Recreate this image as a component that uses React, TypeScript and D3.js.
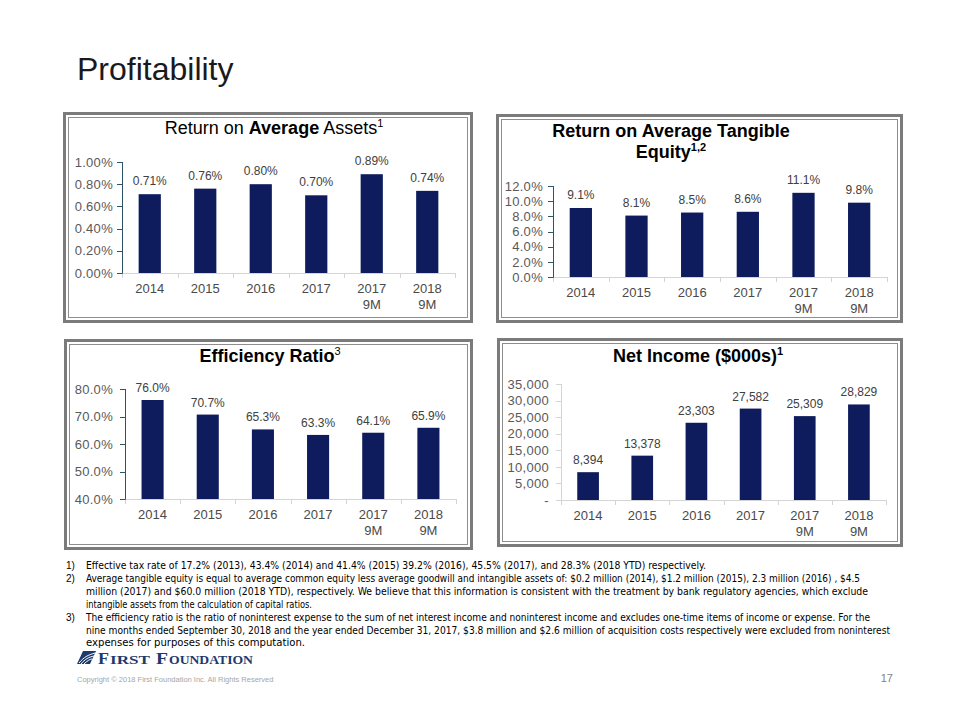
import React from "react";
import * as d3 from "d3";

// ---------- data ----------
const categories = ["2014", "2015", "2016", "2017", "2017 9M", "2018 9M"];

const roaaValues = [0.71, 0.76, 0.8, 0.7, 0.89, 0.74];
const roaaTicks = [0, 0.2, 0.4, 0.6, 0.8, 1.0];

const roateValues = [9.1, 8.1, 8.5, 8.6, 11.1, 9.8];
const roateTicks = [0, 2, 4, 6, 8, 10, 12];

const efficiencyValues = [76.0, 70.7, 65.3, 63.3, 64.1, 65.9];
const efficiencyTicks = [40, 50, 60, 70, 80];

const netIncomeValues = [8394, 13378, 23303, 27582, 25309, 28829];
const netIncomeTicks = [0, 5000, 10000, 15000, 20000, 25000, 30000, 35000];

const footnoteNumbers = ["1)", "2)", "", "", "3)", "", ""];
const footnoteLines = [
  "Effective tax rate of 17.2% (2013), 43.4% (2014) and 41.4% (2015) 39.2% (2016), 45.5% (2017), and 28.3% (2018 YTD) respectively.",
  "Average tangible equity is equal to average common equity less average goodwill and intangible assets of: $0.2 million (2014), $1.2 million (2015), 2.3 million (2016) , $4.5",
  "million  (2017) and $60.0 million  (2018 YTD), respectively. We believe that this information is consistent with the treatment by bank regulatory agencies, which exclude",
  "intangible assets from the calculation of capital ratios.",
  "The efficiency ratio is the ratio of noninterest expense to the sum of net interest income and noninterest income and excludes one-time items of income or expense. For the",
  "nine months ended September 30, 2018 and the year ended December 31, 2017, $3.8 million  and $2.6 million  of acquisition costs respectively were excluded from noninterest",
  "expenses for purposes of this computation.",
];
const footnoteWidths = [620, 774, 782, 226, 784, 804, 219];

// ---------- styles ----------
const BAR = "#0e1b5c";
const FONT = "'Liberation Sans', Arial, sans-serif";
const NARROW = "'Liberation Sans Narrow', 'Arial Narrow', 'DejaVu Sans Condensed', sans-serif";
const LOGO = "#1d3a6d";

type Frame = { x: number; y: number; w: number; h: number };
type Plot = { x0: number; x1: number; yTop: number; yBottom: number };

function Panel(props: {
  frame: Frame;
  plot: Plot;
  domain: [number, number];
  ticks: number[];
  tickFmt: (v: number) => string;
  values: number[];
  valFmt: (v: number) => string;
  yAxisColor: string;
  tickGap: number;
  labelGap: number;
  children?: React.ReactNode;
}) {
  const { frame, plot, domain, ticks, tickFmt, values, valFmt, yAxisColor, tickGap, labelGap } = props;
  const y = d3.scaleLinear().domain(domain).range([plot.yBottom, plot.yTop]);
  const x = d3
    .scaleBand<string>()
    .domain(categories)
    .range([plot.x0, plot.x1])
    .paddingInner(0.6)
    .paddingOuter(0.3);
  const step = x.step();
  const base = y(domain[0]);
  return (
    <g>
      <rect x={frame.x + 1.5} y={frame.y + 1.5} width={frame.w - 3} height={frame.h - 3} fill="#fff" stroke="#7b7b7b" strokeWidth={3} />
      <rect x={frame.x + 5.5} y={frame.y + 5.5} width={frame.w - 11} height={frame.h - 11} fill="none" stroke="#8e8e8e" strokeWidth={1} />
      {props.children}
      <line x1={plot.x0} x2={plot.x1} y1={base + 0.5} y2={base + 0.5} stroke="#d4d4d4" strokeWidth={1} />
      {d3.range(categories.length + 1).map((i) => {
        const xx = Math.round(plot.x0 + i * step) + 0.5;
        return <line key={i} x1={xx} x2={xx} y1={base} y2={base + 5} stroke="#d4d4d4" strokeWidth={1} />;
      })}
      {values.map((v, i) => {
        const c = categories[i];
        return <rect key={c} x={x(c)} y={y(v)} width={x.bandwidth()} height={base - y(v)} fill={BAR} />;
      })}
      {values.map((v, i) => {
        const c = categories[i];
        return (
          <text key={c} x={(x(c) as number) + x.bandwidth() / 2} y={y(v) - labelGap} textAnchor="middle" fontSize={12} fill="#404040" fontFamily={FONT}>
            {valFmt(v)}
          </text>
        );
      })}
      <line x1={plot.x0 + 0.5} x2={plot.x0 + 0.5} y1={plot.yTop} y2={base + 0.5} stroke={yAxisColor} strokeWidth={1} />
      {ticks.map((t) => (
        <g key={t}>
          <line x1={plot.x0 - 5} x2={plot.x0 + 0.5} y1={Math.round(y(t)) + 0.5} y2={Math.round(y(t)) + 0.5} stroke={yAxisColor} strokeWidth={1} />
          <text x={plot.x0 - tickGap} y={y(t)} dy="0.36em" textAnchor="end" fontSize={13} fill="#595959" fontFamily={FONT} letterSpacing={0.3}>
            {tickFmt(t)}
          </text>
        </g>
      ))}
      {categories.map((c) => {
        const parts = c.split(" ");
        const cx = (x(c) as number) + x.bandwidth() / 2;
        return (
          <text key={c} x={cx} y={base + 20} textAnchor="middle" fontSize={13} fill="#4a4a4a" fontFamily={FONT}>
            {parts.map((p, j) => (
              <tspan key={j} x={cx} dy={j === 0 ? 0 : 16}>
                {p}
              </tspan>
            ))}
          </text>
        );
      })}
    </g>
  );
}

function Logo() {
  const serif = "'Liberation Serif', serif";
  return (
    <g>
      <g transform="translate(77,651)">
        <path d="M0,13 L6,0 L19,0 L13,13 Z" fill={LOGO} />
        <path d="M2,12 C7,6 11,4 18,2" stroke="#fff" strokeWidth={1} fill="none" />
        <path d="M4,13 C8,8 12,6 17,5" stroke="#fff" strokeWidth={1} fill="none" />
        <path d="M7,13 C10,10 13,8 15,8" stroke="#fff" strokeWidth={1} fill="none" />
      </g>
      <text x={98} y={664} fill={LOGO} fontFamily={serif} fontWeight="bold" fontSize={17} textLength={11} lengthAdjust="spacingAndGlyphs">F</text>
      <text x={110} y={664} fill={LOGO} fontFamily={serif} fontWeight="bold" fontSize={13.5} textLength={40} lengthAdjust="spacingAndGlyphs">IRST</text>
      <text x={156} y={664} fill={LOGO} fontFamily={serif} fontWeight="bold" fontSize={17} textLength={12} lengthAdjust="spacingAndGlyphs">F</text>
      <text x={169} y={664} fill={LOGO} fontFamily={serif} fontWeight="bold" fontSize={13.5} textLength={84} lengthAdjust="spacingAndGlyphs">OUNDATION</text>
    </g>
  );
}

export default function App() {
  const pctFmt = (digits: number) => (v: number) => d3.format(`.${digits}f`)(v) + "%";
  const niTick = (v: number) => (v === 0 ? "-" : d3.format(",")(v));
  return (
    <svg width={960} height={720} style={{ position: "absolute", left: 0, top: 0, display: "block", background: "#fff" }}>
      <text x={77} y={80} fontSize={32} fontFamily={FONT} fill="#1a1a1a">
        Profitability
      </text>

      <Panel
        frame={{ x: 63, y: 112, w: 410, h: 211 }}
        plot={{ x0: 122, x1: 455, yTop: 162, yBottom: 273 }}
        domain={[0, 1.0]}
        ticks={roaaTicks}
        tickFmt={pctFmt(2)}
        values={roaaValues}
        valFmt={pctFmt(2)}
        yAxisColor="#2f5466"
        tickGap={9}
        labelGap={9}
      >
        <text x={274} y={134} textAnchor="middle" fontSize={18} fontFamily={FONT} fill="#000">
          Return on <tspan fontWeight="bold">Average</tspan> Assets
          <tspan fontSize={11} dy={-7}>1</tspan>
        </text>
      </Panel>

      <Panel
        frame={{ x: 496, y: 114, w: 407, h: 209 }}
        plot={{ x0: 553, x1: 887, yTop: 186, yBottom: 277 }}
        domain={[0, 12]}
        ticks={roateTicks}
        tickFmt={pctFmt(1)}
        values={roateValues}
        valFmt={pctFmt(1)}
        yAxisColor="#2f5466"
        tickGap={10}
        labelGap={9}
      >
        <text x={671} y={137} textAnchor="middle" fontSize={18} fontWeight="bold" fontFamily={FONT} fill="#000">
          Return on Average Tangible
        </text>
        <text x={671} y={158} textAnchor="middle" fontSize={18} fontWeight="bold" fontFamily={FONT} fill="#000">
          Equity<tspan fontSize={11} dy={-7}>1,2</tspan>
        </text>
      </Panel>

      <Panel
        frame={{ x: 64, y: 339, w: 409, h: 211 }}
        plot={{ x0: 125, x1: 456, yTop: 389, yBottom: 499 }}
        domain={[40, 80]}
        ticks={efficiencyTicks}
        tickFmt={pctFmt(1)}
        values={efficiencyValues}
        valFmt={pctFmt(1)}
        yAxisColor="#2f5466"
        tickGap={12}
        labelGap={8}
      >
        <text x={270} y={362} textAnchor="middle" fontSize={18} fontWeight="bold" fontFamily={FONT} fill="#000">
          Efficiency Ratio<tspan fontSize={11} fontWeight="normal" dy={-7}>3</tspan>
        </text>
      </Panel>

      <Panel
        frame={{ x: 497, y: 338, w: 406, h: 209 }}
        plot={{ x0: 561, x1: 886, yTop: 384, yBottom: 500 }}
        domain={[0, 35000]}
        ticks={netIncomeTicks}
        tickFmt={niTick}
        values={netIncomeValues}
        valFmt={d3.format(",")}
        yAxisColor="#d4d4d4"
        tickGap={12}
        labelGap={8}
      >
        <text x={698} y={362} textAnchor="middle" fontSize={18} fontWeight="bold" fontFamily={FONT} fill="#000">
          Net Income ($000s)<tspan fontSize={11} dy={-7}>1</tspan>
        </text>
      </Panel>

      {footnoteLines.map((line, i) => (
        <g key={i}>
          {footnoteNumbers[i] && (
            <text x={66} y={569 + i * 12.9} fontSize={10} fontFamily={FONT} fill="#000">
              {footnoteNumbers[i]}
            </text>
          )}
          <text x={86} y={569 + i * 12.9} fontSize={10.5} fontFamily={NARROW} fill="#000" textLength={footnoteWidths[i]} lengthAdjust="spacingAndGlyphs">
            {line}
          </text>
        </g>
      ))}

      <Logo />
      <text x={77} y={682} fontSize={7.5} fontFamily={FONT} fill="#a6a6a6">
        Copyright © 2018 First Foundation Inc. All Rights Reserved
      </text>
      <text x={893} y={682} textAnchor="end" fontSize={11} fontFamily={FONT} fill="#7f7f7f">
        17
      </text>
    </svg>
  );
}
